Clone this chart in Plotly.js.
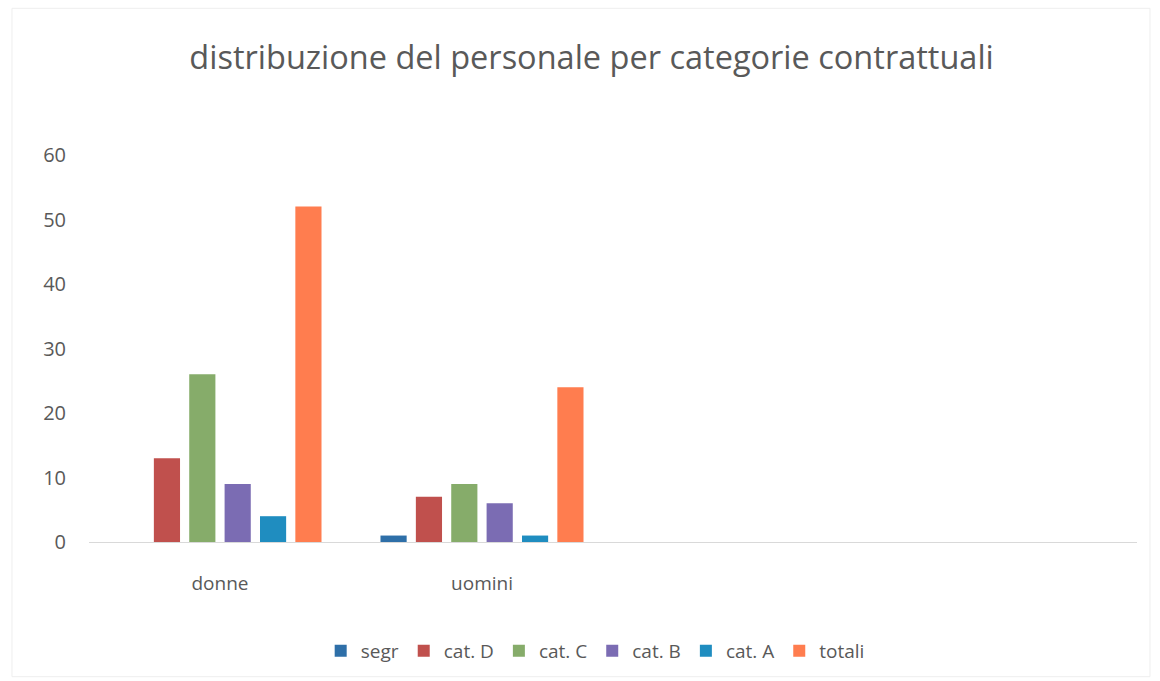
<!DOCTYPE html>
<html>
<head>
<meta charset="utf-8">
<script src="https://cdn.plot.ly/plotly-3.0.1.min.js"></script>
<style>html,body{margin:0;padding:0;background:#fff;}#chart{width:1160px;height:681px;}</style>
</head>
<body>
<div id="chart"></div>
<script>
const categories = ["donne", "uomini"];
const seriesNames = ["segr", "cat. D", "cat. C", "cat. B", "cat. A", "totali"];
const segr = [0, 1];
const catD = [13, 7];
const catC = [26, 9];
const catB = [9, 6];
const catA = [4, 1];
const totali = [52, 24];
const yTicks = [0, 10, 20, 30, 40, 50, 60];

const seriesValues = [segr, catD, catC, catB, catA, totali];
const colors = ["#2E6FA8", "#C0504D", "#86AC6A", "#7B6CB3", "#1F8DC0", "#FF7D4F"];

const traces = seriesNames.map((name, i) => ({
  type: "bar",
  name: name,
  x: categories,
  y: seriesValues[i],
  marker: {color: colors[i]},
  hoverinfo: "x+y+name"
}));

const FONT = "'Open Sans', 'Noto Sans', sans-serif";

const layout = {
  width: 1160,
  height: 681,
  paper_bgcolor: "#ffffff",
  plot_bgcolor: "#ffffff",
  font: {family: FONT, color: "#595959", size: 19},
  title: {
    text: "distribuzione del personale per categorie contrattuali",
    font: {family: FONT, size: 32.5, color: "#595959"},
    x: 0.51, xanchor: "center",
    y: 0.915, yanchor: "middle"
  },
  margin: {l: 89, r: 23, t: 155, b: 138},
  barmode: "group",
  bargap: 0.19,
  bargroupgap: 0.26,
  xaxis: {
    type: "category",
    range: [-0.5, 3.5],
    showline: true,
    linecolor: "#d9d9d9",
    linewidth: 1,
    showgrid: false,
    ticks: "",
    ticklabelstandoff: 24,
    tickfont: {family: FONT, size: 19, color: "#595959"},
    zeroline: false,
    fixedrange: true
  },
  yaxis: {
    range: [0, 60],
    tickvals: yTicks,
    ticktext: yTicks.map(String),
    showgrid: false,
    zeroline: false,
    showline: false,
    ticks: "",
    ticklabelstandoff: 22,
    tickfont: {family: FONT, size: 20, color: "#595959"},
    fixedrange: true
  },
  legend: {
    orientation: "h",
    x: 0.483, xanchor: "center",
    y: -0.278, yanchor: "middle",
    font: {family: FONT, size: 19, color: "#595959"},
    itemwidth: 30,
    traceorder: "normal"
  },
  shapes: [{
    type: "rect", xref: "paper", yref: "paper",
    x0: -0.0735, x1: 1.0124, y0: -0.348, y1: 1.379,
    line: {color: "#eeeeee", width: 1}, fillcolor: "rgba(0,0,0,0)", layer: "below"
  }],
  showlegend: true
};

Plotly.newPlot("chart", traces, layout, {displayModeBar: false, responsive: false});
</script>
</body>
</html>
